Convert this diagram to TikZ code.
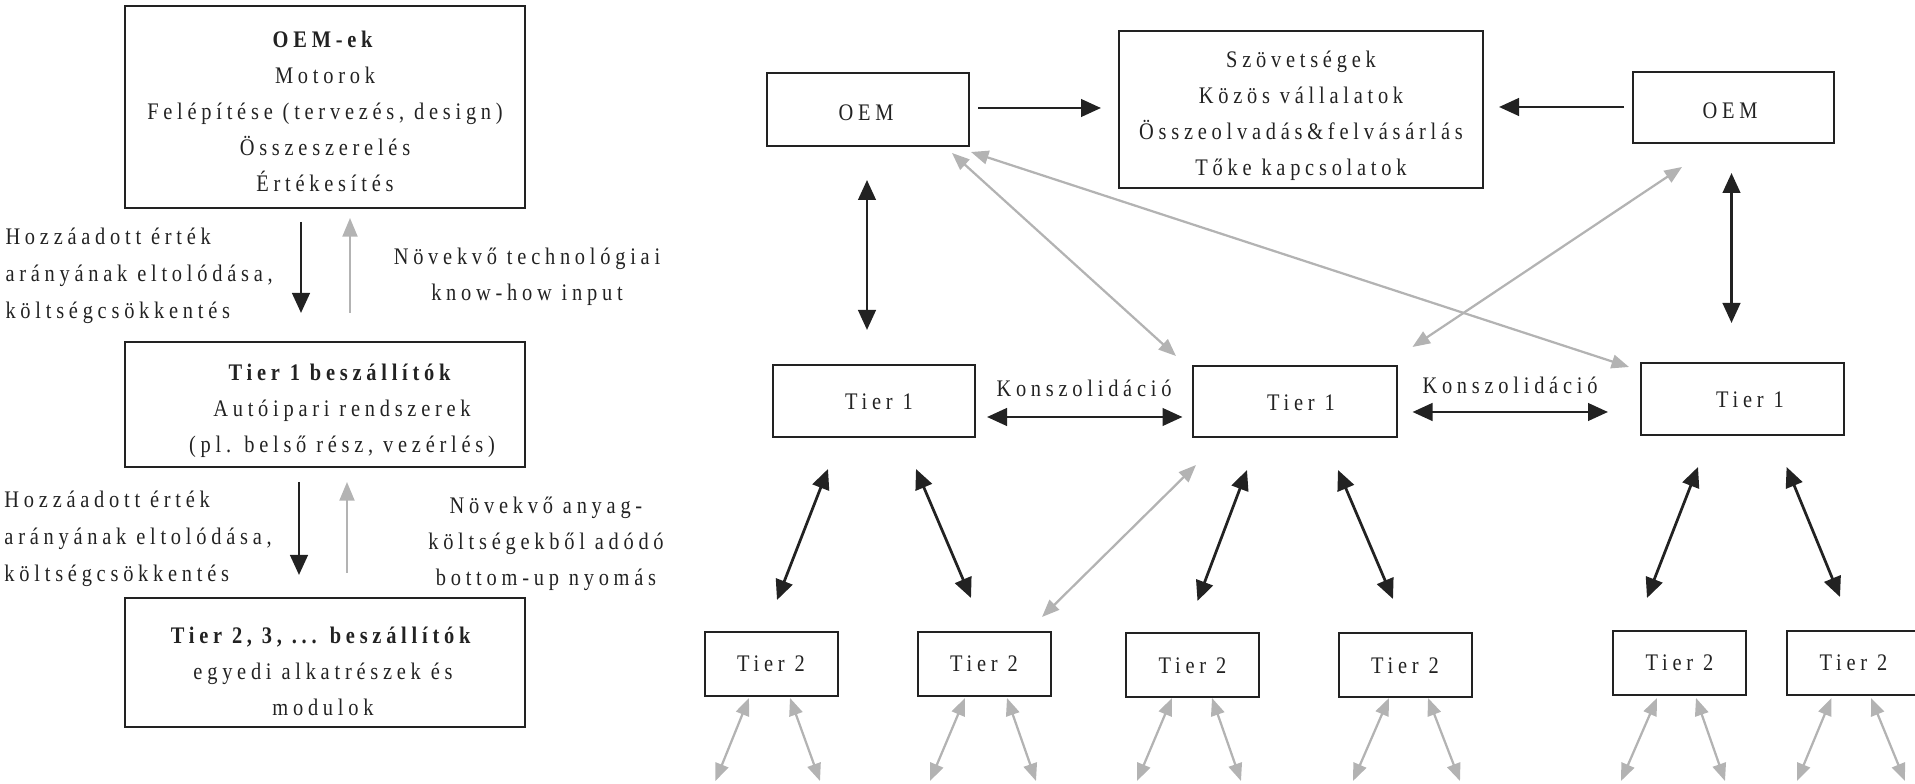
\documentclass[tikz,border=0pt]{standalone}
\usepackage{fontspec}
\setmainfont{Liberation Serif}[LetterSpace=20,FakeStretch=0.86]
\usetikzlibrary{arrows.meta}
\definecolor{dk}{HTML}{222222}
\definecolor{gr}{HTML}{B3B3B3}
\begin{document}
\begin{tikzpicture}[x=0.4pt,y=-0.4pt,
  box/.style={draw=dk, line width=0.8pt, inner sep=0pt, text=dk, font=\fontsize{9.5}{14.4}\selectfont},
  txt/.style={inner sep=0pt, align=center, font=\fontsize{9.5}{14.4}\selectfont, text=dk},
  ltxt/.style={inner sep=0pt, align=left, font=\fontsize{9.5}{14.8}\selectfont, text=dk, anchor=west},
  bk/.style={draw=dk, line width=1.1pt, -{Triangle[length=8pt,width=7pt]}},
  bkd/.style={draw=dk, line width=1.1pt, {Triangle[length=8pt,width=7pt]}-{Triangle[length=8pt,width=7pt]}},
  gy/.style={draw=gr, line width=0.9pt, -{Triangle[length=7.5pt,width=6pt]}},
  gyd/.style={draw=gr, line width=0.9pt, {Triangle[length=7pt,width=5.5pt]}-{Triangle[length=7pt,width=5.5pt]}}
]
\useasboundingbox (0,0) rectangle (1915,784);

% ---------- left column ----------
\node[box, minimum width=160pt, minimum height=80.8pt] (oemek) at (325,107) {};
\node[txt] (oemektxt) at (325,111) {\textbf{OEM-ek}\\Motorok\\Felépítése (tervezés, design)\\Összeszerelés\\Értékesítés};
\node[box, minimum width=160pt, minimum height=50pt] (tone) at (325,404.5) {};
\node[txt] (tonetxt) at (342,411) {\textbf{Tier 1 beszállítók}\\Autóipari rendszerek\\(pl. belső rész, vezérlés)};
\node[box, minimum width=160pt, minimum height=51.6pt] (ttwo) at (325,662.5) {};
\node[txt] (ttwotxt) at (323,671) {\textbf{Tier 2, 3, ... beszállítók}\\egyedi alkatrészek és\\modulok};

\node[ltxt] (lt1) at (5,276) {Hozzáadott érték\\arányának eltolódása,\\költségcsökkentés};
\node[txt] (rt1) at (527,276.5) {Növekvő technológiai\\know-how input};
\node[ltxt] (lt2) at (4,539) {Hozzáadott érték\\arányának eltolódása,\\költségcsökkentés};
\node[txt] (rt2) at (546,543.5) {Növekvő anyag-\\költségekből adódó\\bottom-up nyomás};

\coordinate (a1s) at (301,222); \coordinate (a1e) at (301,313);
\coordinate (a2s) at (350,313); \coordinate (a2e) at (350,218);
\coordinate (a3s) at (299,482); \coordinate (a3e) at (299,575);
\coordinate (a4s) at (347,573); \coordinate (a4e) at (347,482);
\draw[bk] (a1s) -- (a1e);
\draw[gy] (a2s) -- (a2e);
\draw[bk] (a3s) -- (a3e);
\draw[gy] (a4s) -- (a4e);

% ---------- right diagram ----------
\node[box, minimum width=80.8pt, minimum height=29.2pt] (oemL) at (868,109.5) {};
\node[txt] (oemLt) at (866,113) {OEM};
\node[box, minimum width=145.6pt, minimum height=62.8pt] (alli) at (1301,109.5) {};
\node[txt] (allit) at (1301,116) {Szövetségek\\Közös vállalatok\\Összeolvadás\&felvásárlás\\Tőke kapcsolatok};
\node[box, minimum width=80.4pt, minimum height=28.4pt] (oemR) at (1733.5,107.5) {};
\node[txt] (oemRt) at (1730,111) {OEM};

\node[box, minimum width=80.8pt, minimum height=28.8pt] (t1a) at (874,401) {};
\node[txt] (t1at) at (879,402) {Tier 1};
\node[box, minimum width=81.4pt, minimum height=28.4pt] (t1b) at (1295,401.5) {};
\node[txt] (t1bt) at (1301,403) {Tier 1};
\node[box, minimum width=81.2pt, minimum height=28.8pt] (t1c) at (1742.5,399) {};
\node[txt] (t1ct) at (1750,400) {Tier 1};

\node[txt] (kons1) at (1084,388) {Konszolidáció};
\node[txt] (kons2) at (1510,385) {Konszolidáció};

\foreach \n/\x/\y in {1/771/664, 2/984/664, 3/1192.5/665.5, 4/1405/665.5, 5/1679.5/663, 6/1853.5/663}{
  \node[box, minimum width=53.2pt, minimum height=25.6pt] (t2\n) at (\x,\y) {Tier 2};
}

% black arrows top
\coordinate (b1s) at (978,108); \coordinate (b1e) at (1101,108);
\coordinate (b2s) at (1624,107); \coordinate (b2e) at (1499,107);
\draw[bk] (b1s) -- (b1e);
\draw[bk] (b2s) -- (b2e);
\coordinate (v1s) at (867,180); \coordinate (v1e) at (867,330);
\coordinate (v2s) at (1731.5,173); \coordinate (v2e) at (1731.5,323);
\draw[bkd] (v1s) -- (v1e);
\draw[bkd] (v2s) -- (v2e);
\coordinate (k1s) at (987,417); \coordinate (k1e) at (1182.5,417);
\coordinate (k2s) at (1412.5,412); \coordinate (k2e) at (1608,412);
\draw[bkd] (k1s) -- (k1e);
\draw[bkd] (k2s) -- (k2e);

% gray diagonals
\coordinate (g1s) at (952,153); \coordinate (g1e) at (1176,356);
\coordinate (g2s) at (971,152); \coordinate (g2e) at (1629,367);
\coordinate (g3s) at (1682,167); \coordinate (g3e) at (1412.5,347);
\coordinate (g4s) at (1196,465); \coordinate (g4e) at (1042,617);
\draw[gyd] (g1s) -- (g1e);
\draw[gyd] (g2s) -- (g2e);
\draw[gyd] (g3s) -- (g3e);
\draw[gyd] (g4s) -- (g4e);

% black Tier1 - Tier2
\foreach \i/\xa/\ya/\xb/\yb in {a/828/469/777/600, b/916/469/971/598, c/1247/470/1197.5/601, d/1338/470/1393/599, e/1698/467/1647/598, f/1786.6/467/1840/597}{
  \coordinate (d\i s) at (\xa,\ya); \coordinate (d\i e) at (\xb,\yb);
  \draw[bkd] (d\i s) -- (d\i e);
}

% gray small arrows under Tier 2
\foreach \i/\xa/\xb/\xc/\xd in {1/749/715.4/790/820, 2/965/930/1007/1036, 3/1172/1137/1212/1241, 4/1389/1353/1428/1460, 5/1657/1621/1696/1725, 6/1831.5/1797/1871/1905}{
  \coordinate (s\i a) at (\xa,698); \coordinate (s\i b) at (\xb,781);
  \coordinate (s\i c) at (\xc,698); \coordinate (s\i d) at (\xd,781);
  \draw[gyd] (s\i a) -- (s\i b);
  \draw[gyd] (s\i c) -- (s\i d);
}
\end{tikzpicture}
\end{document}
